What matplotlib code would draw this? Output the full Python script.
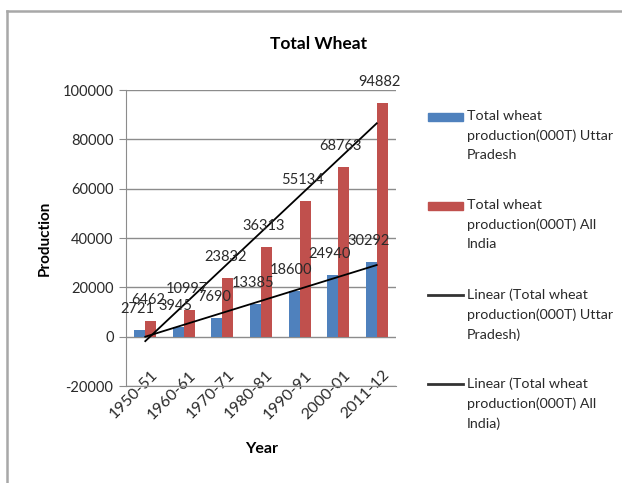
import matplotlib
matplotlib.use("Agg")
import matplotlib.pyplot as plt
import numpy as np
from matplotlib.lines import Line2D
from matplotlib.patches import Rectangle
from matplotlib.transforms import ScaledTranslation

plt.rcParams['font.family'] = ['Lato', 'DejaVu Sans']
plt.rcParams['axes.unicode_minus'] = False

years = ["1950-51", "1960-61", "1970-71", "1980-81", "1990-91", "2000-01", "2011-12"]
up_vals = [2721, 3945, 7690, 13385, 18600, 24940, 30292]
india_vals = [6462, 10997, 23832, 36313, 55134, 68763, 94882]
labels = ["Total wheat\nproduction(000T) Uttar\nPradesh",
          "Total wheat\nproduction(000T) All\nIndia",
          "Linear (Total wheat\nproduction(000T) Uttar\nPradesh)",
          "Linear (Total wheat\nproduction(000T) All\nIndia)"]

blue = "#4F81BD"
red = "#C0504D"
grid_c = "#8c8c8c"
txt_c = "#2a2a2a"

W, H = 622, 483
fig = plt.figure(figsize=(W/100, H/100), dpi=100)
ax = fig.add_axes([126/W, 1-386/H, 270/W, 296/H])

x = np.arange(len(years))
w = 1/3.5
ax.bar(x - w/2, up_vals, w, color=blue, zorder=2)
ax.bar(x + w/2, india_vals, w, color=red, zorder=2)

xn = np.arange(1, len(years)+1)
for vals in (up_vals, india_vals):
    p = np.polyfit(xn, vals, 1)
    ax.plot(x, np.polyval(p, xn), color="black", lw=1.3, zorder=3)

for i in range(len(years)):
    ax.annotate(str(up_vals[i]), (x[i] - w/2, up_vals[i]), xytext=(-2, 15),
                textcoords="offset points", ha="center", va="center", fontsize=10.5, color=txt_c, zorder=4)
    ax.annotate(str(india_vals[i]), (x[i] + w/2, india_vals[i]), xytext=(-2, 15),
                textcoords="offset points", ha="center", va="center", fontsize=10.5, color=txt_c, zorder=4)

ax.set_xlim(-0.5, len(years)-0.5)
ax.set_ylim(-20000, 100000)
ax.set_yticks(np.arange(-20000, 100001, 20000))
ax.yaxis.grid(True, color=grid_c, lw=1.0, zorder=0)
ax.set_xticks(x)
ax.set_xticklabels(years, rotation=45, ha="right", rotation_mode="anchor", fontsize=11.5, color=txt_c)
ax.tick_params(axis='y', labelsize=10.5, length=5, color=grid_c, pad=4, labelcolor=txt_c)
ax.tick_params(axis='x', length=0, pad=-13)
for lbl in ax.get_xticklabels():
    lbl.set_transform(lbl.get_transform() + ScaledTranslation(5/100, 0, fig.dpi_scale_trans))
for s in ("top", "right"):
    ax.spines[s].set_visible(False)
for s in ("left", "bottom"):
    ax.spines[s].set_color(grid_c)
ax.set_ylabel("Production", fontsize=11, fontweight="bold", labelpad=8)
fig.text(262/W, 1-449/H, "Year", ha="center", va="center", fontsize=11.5, fontweight="bold")
fig.text(319/W, 1-44/H, "Total Wheat", ha="center", va="center", fontsize=12.5, fontweight="bold")

# legend drawn manually to mimic Excel layout (handle aligned with first line)
for i, lab in enumerate(labels):
    yc = 119 + i * 89
    if i < 2:
        fig.add_artist(Rectangle((428/W, 1-(yc+2)/H), 35/W, 8/H, transform=fig.transFigure,
                                 color=[blue, red][i]))
    else:
        fig.add_artist(Line2D([428/W, 463/W], [1-(yc-2)/H, 1-(yc-2)/H], transform=fig.transFigure,
                              color="#333333", lw=2))
    fig.text(467/W, 1-(yc-9)/H, lab, ha="left", va="top", fontsize=10.3, color=txt_c, linespacing=1.72)

# chart area border (top and left visible)
fig.add_artist(Line2D([7/W, 7/W], [0, 1-11/H], transform=fig.transFigure, color="#a8a8a8", lw=1.8))
fig.add_artist(Line2D([7/W, 1], [1-11/H, 1-11/H], transform=fig.transFigure, color="#a8a8a8", lw=1.8))

fig.savefig("out.png", dpi=100)
